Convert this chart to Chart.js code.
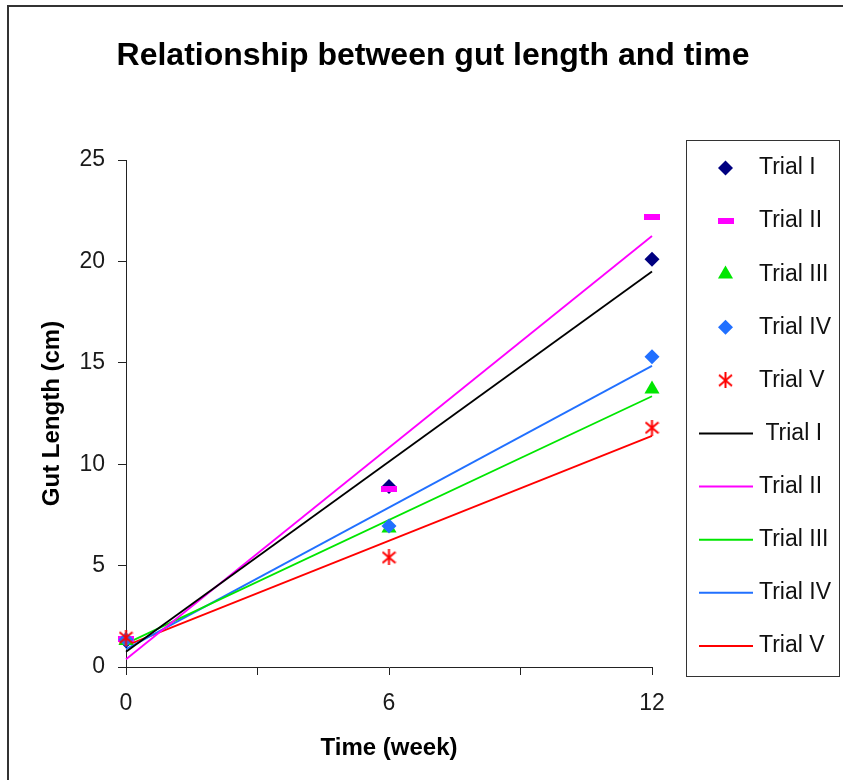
<!DOCTYPE html>
<html>
<head>
<meta charset="utf-8">
<script src="https://cdn.jsdelivr.net/npm/chart.js@4.4.1/dist/chart.umd.min.js"></script>
<style>
  html, body { margin: 0; padding: 0; background: #ffffff; }
  #wrap { width: 843px; height: 780px; }
</style>
</head>
<body>
<div id="wrap"><canvas id="c" width="843" height="780"></canvas></div>
<script>
// ---- data ----
const weeks = [0, 6, 12];
const xTickLabels = [0, 6, 12];
const trialNames = ['Trial I', 'Trial II', 'Trial III', 'Trial IV', 'Trial V'];
const trendNames = [' Trial I', 'Trial II', 'Trial III', 'Trial IV', 'Trial V'];
const trial1 = [1.3, 8.9, 20.1];
const trial2 = [1.4, 8.8, 22.2];
const trial3 = [1.3, 6.85, 13.7];
const trial4 = [1.35, 6.95, 15.3];
const trial5 = [1.45, 5.4, 11.8];
const trendWeeks = [0, 12];
const trendStart = [0.75, 0.38, 1.15, 0.88, 1.05];
const trendEnd = [19.5, 21.25, 13.35, 14.85, 11.4];

// ---- styles ----
const pointColors = ['#000080', '#FF00FF', '#00E600', '#2170FF', '#FF0000'];
const lineColors = ['#000000', '#FF00FF', '#00E600', '#2170FF', '#FF0000'];

function makeDash() {
  const c = document.createElement('canvas'); c.width = 16; c.height = 6;
  const g = c.getContext('2d'); g.fillStyle = '#FF00FF'; g.fillRect(0, 0, 16, 6);
  return c;
}
function makeAsterisk() {
  const c = document.createElement('canvas'); c.width = 15; c.height = 16;
  const g = c.getContext('2d'); g.strokeStyle = '#FF0000'; g.lineWidth = 2;
  g.beginPath();
  g.moveTo(7.5, 0); g.lineTo(7.5, 16);
  g.moveTo(1, 2.5); g.lineTo(14, 13.5);
  g.moveTo(14, 2.5); g.lineTo(1, 13.5);
  g.stroke();
  return c;
}
const pointStyles = ['rectRot', makeDash(), 'triangle', 'rectRot', makeAsterisk()];
const pointRadii = [7.5, 8, 8.7, 7.5, 8];

const titleFont = { family: '"Liberation Sans", Arial, sans-serif', size: 32, weight: 'bold', lineHeight: 1.2 };

const series = [trial1, trial2, trial3, trial4, trial5];

const datasets = [];
series.forEach((vals, i) => {
  datasets.push({
    label: trialNames[i],
    data: weeks.map((w, k) => ({ x: w, y: vals[k] })),
    showLine: false,
    clip: false,
    pointStyle: pointStyles[i],
    pointRadius: pointRadii[i],
    pointHoverRadius: pointRadii[i],
    pointBackgroundColor: pointColors[i],
    pointBorderColor: pointColors[i],
    pointBorderWidth: 0,
    backgroundColor: pointColors[i],
    borderColor: pointColors[i],
    order: 10 - i,
    kind: 'point'
  });
});
trendStart.forEach((s, i) => {
  datasets.push({
    label: trendNames[i],
    data: [{ x: trendWeeks[0], y: s }, { x: trendWeeks[1], y: trendEnd[i] }],
    showLine: true,
    clip: false,
    pointRadius: 0,
    pointHoverRadius: 0,
    borderColor: lineColors[i],
    backgroundColor: lineColors[i],
    borderWidth: 1.8,
    fill: false,
    order: 20,
    kind: 'line'
  });
});

const frame = {
  id: 'frame',
  beforeDraw(chart) {
    const ctx = chart.ctx;
    ctx.save();
    ctx.fillStyle = '#ffffff';
    ctx.fillRect(0, 0, chart.width, chart.height);
    ctx.strokeStyle = '#333333';
    ctx.lineWidth = 2;
    ctx.beginPath();
    ctx.moveTo(8, 780); ctx.lineTo(8, 6); ctx.lineTo(843, 6);
    ctx.stroke();
    ctx.restore();
  }
};

function drawMarker(ctx, ds, x, y) {
  const st = ds.pointStyle, r = ds.pointRadius;
  ctx.fillStyle = ds.pointBackgroundColor;
  if (typeof st !== 'string') {
    ctx.drawImage(st, x - st.width / 2, y - st.height / 2);
    return;
  }
  ctx.beginPath();
  if (st === 'rectRot') {
    ctx.moveTo(x, y - r); ctx.lineTo(x + r, y); ctx.lineTo(x, y + r); ctx.lineTo(x - r, y);
  } else if (st === 'triangle') {
    ctx.moveTo(x, y - r);
    ctx.lineTo(x + r * Math.sin(2 * Math.PI / 3), y + r * 0.5);
    ctx.lineTo(x - r * Math.sin(2 * Math.PI / 3), y + r * 0.5);
  }
  ctx.closePath();
  ctx.fill();
}

const legendBox = {
  id: 'legendBox',
  afterDraw(chart) {
    const ctx = chart.ctx;
    const box = { left: 686, top: 140, right: 839, bottom: 676 };
    ctx.save();
    ctx.fillStyle = '#ffffff';
    ctx.fillRect(box.left, box.top, box.right - box.left, box.bottom - box.top);
    ctx.strokeStyle = '#333333';
    ctx.lineWidth = 1;
    ctx.strokeRect(box.left + 0.5, box.top + 0.5, box.right - box.left, box.bottom - box.top);
    const step = 53.1;
    chart.data.datasets.forEach((ds, i) => {
      const y = box.top + 28 + i * step;
      if (ds.kind === 'point') {
        drawMarker(ctx, ds, 725.5, y);
      } else {
        ctx.strokeStyle = ds.borderColor;
        ctx.lineWidth = 2;
        ctx.beginPath(); ctx.moveTo(699, y); ctx.lineTo(753, y); ctx.stroke();
      }
      ctx.fillStyle = '#111111';
      ctx.font = '23px "Liberation Sans", Arial, sans-serif';
      ctx.textBaseline = 'middle';
      ctx.textAlign = 'left';
      ctx.fillText(ds.label, 759, y);
    });
    ctx.restore();
  }
};

new Chart(document.getElementById('c'), {
  type: 'scatter',
  data: { datasets },
  plugins: [frame, legendBox],
  options: {
    responsive: false,
    animation: false,
    events: [],
    layout: { padding: { left: 23, right: 0, top: 0, bottom: 0 } },
    plugins: {
      legend: { display: false },
      tooltip: { enabled: false },
      title: {
        display: true,
        text: 'Relationship between gut length and time',
        color: '#000000',
        font: titleFont,
        padding: { top: 56 - titleFont.size * 0.6, bottom: 160 - (56 + titleFont.size * 0.6) }
      }
    },
    scales: {
      x: {
        type: 'linear',
        min: 0, max: 12,
        ticks: {
          stepSize: 3,
          autoSkip: false,
          maxRotation: 0,
          padding: 15,
          color: '#1a1a1a',
          font: { family: '"Liberation Sans", Arial, sans-serif', size: 23 },
          callback: (v) => xTickLabels.includes(v) ? String(v) : ''
        },
        grid: { drawOnChartArea: false, drawTicks: true, tickLength: 8, color: '#222222', lineWidth: 1 },
        border: { display: true, color: '#222222', width: 1 },
        title: {
          display: true,
          text: 'Time (week)',
          color: '#000000',
          font: { family: '"Liberation Sans", Arial, sans-serif', size: 24, weight: 'bold', lineHeight: 1.2 },
          padding: { top: 0, bottom: 17.6 }
        },
        afterFit: (s) => { s.height = 113; }
      },
      y: {
        type: 'linear',
        position: 'left',
        min: 0, max: 25,
        ticks: {
          stepSize: 5,
          padding: 13,
          color: '#1a1a1a',
          font: { family: '"Liberation Sans", Arial, sans-serif', size: 23 }
        },
        grid: { drawOnChartArea: false, drawTicks: true, tickLength: 8, color: '#222222', lineWidth: 1 },
        border: { display: true, color: '#222222', width: 1 },
        title: {
          display: true,
          text: 'Gut Length (cm)',
          color: '#000000',
          font: { family: '"Liberation Sans", Arial, sans-serif', size: 24, weight: 'bold', lineHeight: 1.2 },
          padding: { top: 14.6, bottom: 0 }
        },
        afterFit: (s) => { s.width = 103; }
      },
      yRight: {
        type: 'linear',
        position: 'right',
        min: 0, max: 25,
        display: true,
        ticks: { display: false },
        grid: { display: false, drawTicks: false },
        border: { display: false },
        title: { display: false },
        afterFit: (s) => { s.width = 191; }
      }
    }
  }
});
</script>
</body>
</html>
